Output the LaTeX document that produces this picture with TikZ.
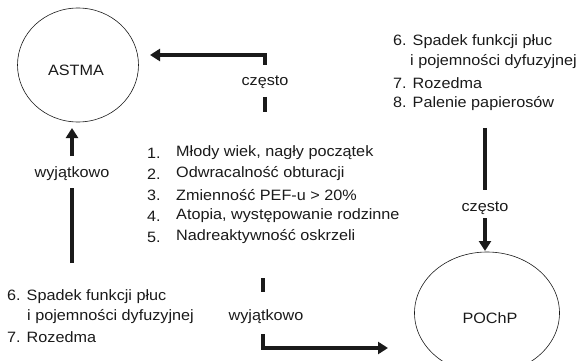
\documentclass[tikz,border=0pt]{standalone}
\usepackage{fontspec}
\setmainfont{Liberation Sans}[FakeStretch=1.08]
\usetikzlibrary{shapes.geometric,arrows.meta}
\definecolor{ink}{HTML}{1A1A1A}
\begin{document}
\begin{tikzpicture}[x=1pt,y=-1pt,
  every node/.style={text=ink,font=\fontsize{15}{17}\selectfont,inner sep=0pt},
  bubble/.style={draw=ink,line width=0.6pt,ellipse},
  lbl/.style={anchor=center},
  item/.style={anchor=west},
  shaft/.style={draw=ink,line width=4pt},
  arr/.style={shaft,-{Triangle[length=10pt,width=12pt]}}
]
\useasboundingbox (0,0) rectangle (579,361);
\clip (0,0) rectangle (579,361);
% ellipses
\node[bubble,minimum width=121pt,minimum height=114pt] (astma) at (78,65) {};
\node at (76,70) (astmaT) {ASTMA};
\node[bubble,minimum width=145pt,minimum height=122pt] (pochp) at (487,313) {};
\node at (490,318) (pochpT) {POChP};
% labels
\node[lbl] (often1) at (265,82) {często};
\node[lbl] (often2) at (485,208) {często};
\node[lbl] (rare1) at (72,174) {wyjątkowo};
\node[lbl] (rare2) at (266,317) {wyjątkowo};
% middle list
\node[item] (n1) at (147,153) {1.};
\node[item] (t1) at (176,153) {Młody wiek, nagły początek};
\node[item] (n2) at (147,174) {2.};
\node[item] (t2) at (176,174) {Odwracalność obturacji};
\node[item] (n3) at (147,195) {3.};
\node[item] (t3) at (176,195) {Zmienność PEF-u > 20\%};
\node[item] (n4) at (147,216) {4.};
\node[item] (t4) at (176,216) {Atopia, występowanie rodzinne};
\node[item] (n5) at (147,237) {5.};
\node[item] (t5) at (176,237) {Nadreaktywność oskrzeli};
% right list
\node[item] (r6) at (393,42) {6. Spadek funkcji płuc};
\node[item] (r6b) at (410,62) {i pojemności dyfuzyjnej};
\node[item] (r7) at (393,83) {7. Rozedma};
\node[item] (r8) at (393,104) {8. Palenie papierosów};
% left list
\node[item] (l6) at (7,297) {6. Spadek funkcji płuc};
\node[item] (l6b) at (27,317) {i pojemności dyfuzyjnej};
\node[item] (l7) at (7,337) {7. Rozedma};
% connector points
\coordinate (a1) at (265,65);
\coordinate (a2) at (265,55);
\coordinate (aT) at (150,55);
\coordinate (s1a) at (265,97);
\coordinate (s1b) at (265,112);
\coordinate (b1) at (72,263);
\coordinate (b2) at (72,188);
\coordinate (b3) at (72,156);
\coordinate (bT) at (72,128);
\coordinate (c1) at (485,128);
\coordinate (c2) at (485,190);
\coordinate (c3) at (485,218);
\coordinate (cT) at (485,251);
\coordinate (d1) at (263,278);
\coordinate (d2) at (263,292);
\coordinate (d3) at (263,334);
\coordinate (dT) at (388,348);
% connectors
\draw[arr] (a1) -- (a2) -- (aT);
\draw[shaft] (s1a) -- (s1b);
\draw[shaft] (b1) -- (b2);
\draw[arr] (b3) -- (bT);
\draw[shaft] (c1) -- (c2);
\draw[arr] (c3) -- (cT);
\draw[shaft] (d1) -- (d2);
\draw[arr] (d3) |- (dT);
\end{tikzpicture}
\end{document}
